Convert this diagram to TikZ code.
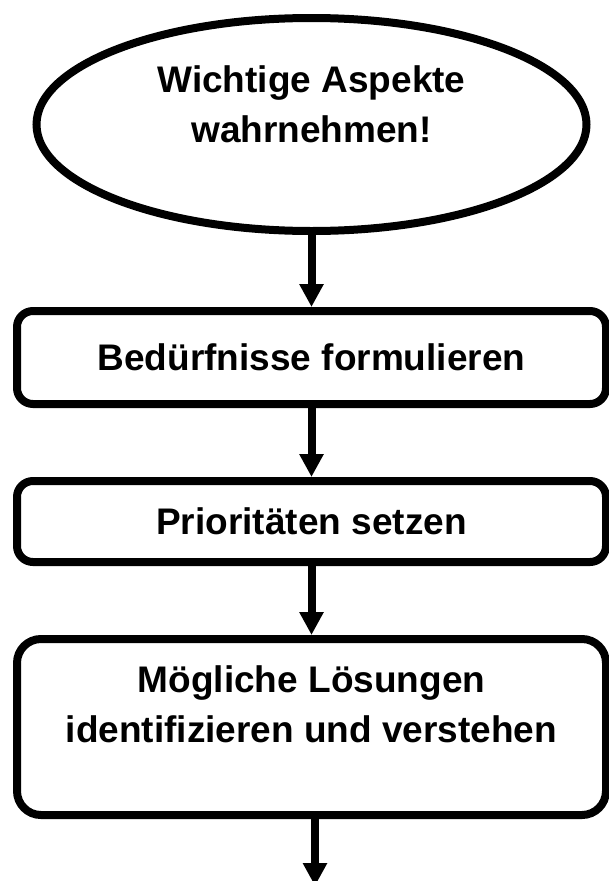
\documentclass[tikz,border=0pt]{standalone}
\usepackage{fontspec}
\setmainfont{Liberation Sans}
\usetikzlibrary{arrows.meta,shapes.geometric}

\begin{document}
\begin{tikzpicture}[x=1pt,y=-1pt,
  flow/.style={draw=black, line width=8pt, inner sep=0pt,
    font=\bfseries\fontsize{37}{50}\selectfont, align=center},
  startshape/.style={flow, ellipse, minimum width=550pt, minimum height=213pt},
  stepbox/.style={flow, rectangle, rounded corners=16pt, minimum width=589pt},
  link/.style={line width=8pt, -{Triangle[length=23pt,width=23pt]}}
]
\useasboundingbox (0,0) rectangle (609,881);

% start ellipse and process steps (the empty last line keeps the text high)
\node[startshape] (aspekte) at (311.5,124.5)
  {Wichtige Aspekte\\wahrnehmen!\\[-9pt]\mbox{}};
\node[stepbox, minimum height=93pt] (beduerfnisse) at (311.5,357.5)
  {Bedürfnisse formulieren};
\node[stepbox, minimum height=81pt] (prioritaeten) at (311.5,521.5)
  {Prioritäten setzen};
\node[stepbox, minimum height=176pt, rounded corners=24pt] (loesungen) at (311.5,727)
  {Mögliche Lösungen\\identifizieren und verstehen\\[-5pt]\mbox{}};

% open end of the last connector
\coordinate (weiter) at (315,886);

% connectors
\draw[link] (aspekte.south) -- (beduerfnisse.north);
\draw[link] (beduerfnisse.south) -- (prioritaeten.north);
\draw[link] (prioritaeten.south) -- (loesungen.north);
\draw[link] (loesungen.south -| weiter) -- (weiter);
\end{tikzpicture}
\end{document}
